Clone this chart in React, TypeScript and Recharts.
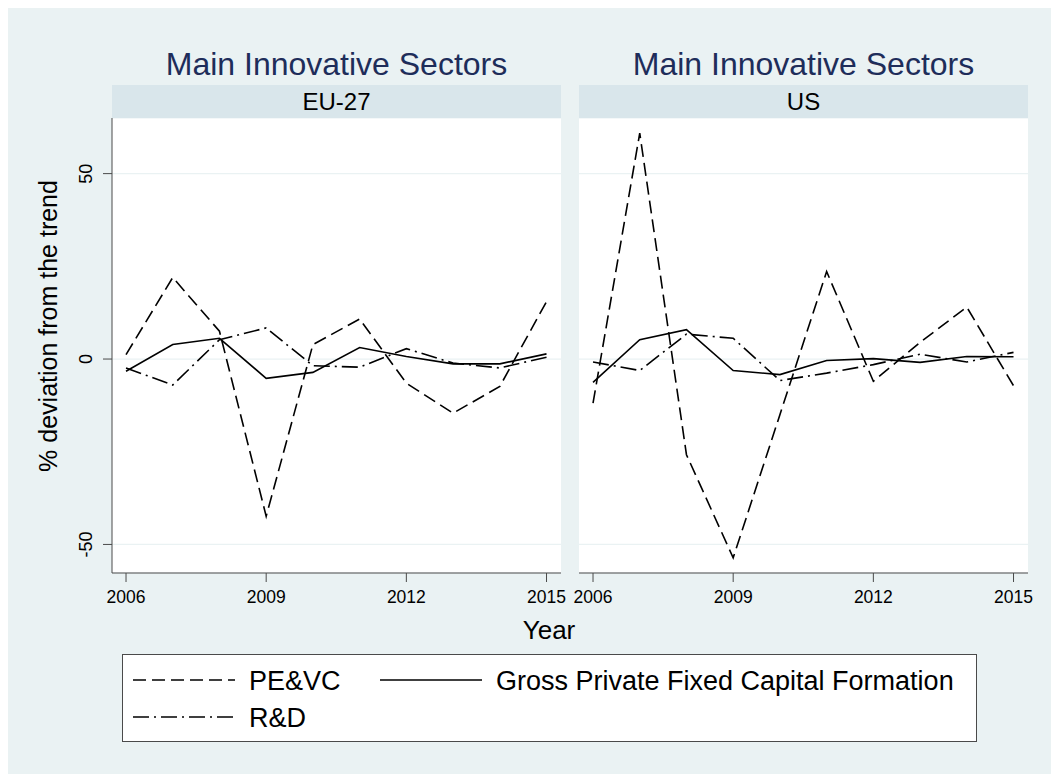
import React from 'react';
import { LineChart, Line, XAxis, YAxis, CartesianGrid } from 'recharts';

// values (% deviation from trend)
const years = [2006, 2007, 2008, 2009, 2010, 2011, 2012, 2013, 2014, 2015];
const xTicks = [2006, 2009, 2012, 2015];
const yTicks = [-50, 0, 50];

const euPEVC = [1.2, 22, 7.5, -42.4, 3.9, 10.8, -6.5, -14.6, -7.4, 15.5];
const euGPFCF = [-3.3, 3.9, 5.6, -5.2, -3.6, 3.1, 0.7, -1.3, -1.3, 1.4];
const euRD = [-2.4, -7, 5.2, 8.4, -1.8, -2.2, 2.8, -1.1, -2.4, 0.5];

const usPEVC = [-11.9, 60.9, -25.8, -53.6, -15, 23.6, -6, 4.5, 14, -7.2];
const usGPFCF = [-6.3, 5.2, 7.9, -3.1, -4.2, -0.4, 0.1, -0.9, 0.7, 0.6];
const usRD = [-0.8, -3.1, 6.7, 5.6, -5.8, -3.8, -1.5, 1.3, -0.8, 1.8];

const panels = ['EU-27', 'US'];

const series = [
  { key: 'pevc', name: 'PE&VC', dash: '13 6' },
  { key: 'gpfcf', name: 'Gross Private Fixed Capital Formation', dash: undefined },
  { key: 'rd', name: 'R&D', dash: '16 5 2 5' },
];

const build = (pevc: number[], gpfcf: number[], rd: number[]) =>
  years.map((year, i) => ({ year, pevc: pevc[i], gpfcf: gpfcf[i], rd: rd[i] }));

const euData = build(euPEVC, euGPFCF, euRD);
const usData = build(usPEVC, usGPFCF, usRD);

const FONT = '"Liberation Sans", Arial, Helvetica, sans-serif';
const BG = '#eaf2f3';
const STRIP = '#d9e6eb';
const NAVY = '#1e2d5a';
const AXIS = '#4a4a4a';

const W = 1051;
const H = 766;
const PLOT_W = 449;
const PLOT_H = 455;
const PLOT_TOP = 110;
const LEFT_X = 104;
const RIGHT_X = 571;
const PAD = 24; // room for edge tick labels

const YTick = (props: any) => {
  const { x, y, payload } = props;
  const tx = x - 11;
  return (
    <text
      x={tx}
      y={y}
      transform={`rotate(-90 ${tx} ${y})`}
      textAnchor="middle"
      fontSize={18}
      fontFamily={FONT}
      fill="#000"
    >
      {payload.value}
    </text>
  );
};

const Panel = ({ data, withAxis }: { data: any[]; withAxis: boolean }) => (
  <LineChart
    width={(withAxis ? LEFT_X : PAD) + PLOT_W + PAD}
    height={PLOT_H + 40}
    data={data}
    margin={{ top: 0, right: PAD, bottom: 0, left: withAxis ? 0 : PAD }}
  >
    <CartesianGrid vertical={false} stroke={BG} strokeWidth={1.2} fill="#fff" />
    <XAxis
      dataKey="year"
      type="number"
      domain={[2005.7, 2015.31]}
      ticks={xTicks}
      allowDataOverflow
      height={40}
      tickSize={9}
      tickMargin={9}
      axisLine={{ stroke: AXIS }}
      tickLine={{ stroke: AXIS }}
      tick={{ fill: '#000', fontSize: 17.5, fontFamily: FONT }}
    />
    <YAxis
      type="number"
      domain={[-57.7, 65]}
      ticks={yTicks}
      allowDataOverflow
      hide={!withAxis}
      width={LEFT_X}
      tickSize={9}
      tickMargin={0}
      axisLine={{ stroke: AXIS }}
      tickLine={{ stroke: AXIS }}
      tick={<YTick />}
    />
    {series.map((s) => (
      <Line
        key={s.key}
        type="linear"
        dataKey={s.key}
        name={s.name}
        stroke="#000"
        strokeWidth={1.6}
        strokeDasharray={s.dash}
        dot={false}
        activeDot={false}
        isAnimationActive={false}
      />
    ))}
  </LineChart>
);

const Frame = () => {
  const panelX = [LEFT_X, RIGHT_X];
  const legendRows = [
    [series[0], series[1]],
    [series[2]],
  ];
  return (
    <svg width={W} height={H} style={{ position: 'absolute', left: 0, top: 0 }} fontFamily={FONT}>
      <rect x={0} y={0} width={W} height={H} fill={BG} />
      {panels.map((p, i) => (
        <g key={p}>
          <text x={panelX[i] + PLOT_W / 2} y={67} textAnchor="middle" fontSize={32} fill={NAVY}>
            Main Innovative Sectors
          </text>
          <rect x={panelX[i]} y={77} width={PLOT_W} height={33} fill={STRIP} />
          <text x={panelX[i] + PLOT_W / 2} y={102} textAnchor="middle" fontSize={24} fill="#000">
            {p}
          </text>
        </g>
      ))}
      <text x={49} y={318} transform="rotate(-90 49 318)" textAnchor="middle" fontSize={25} fill="#000">
        % deviation from the trend
      </text>
      <text x={541} y={631} textAnchor="middle" fontSize={26} fill="#000">
        Year
      </text>
      <rect x={114.5} y={646.5} width={854} height={87} fill="#fff" stroke={AXIS} strokeWidth={1} />
      {legendRows.map((row, r) =>
        row.map((s, c) => {
          const ly = 672 + r * 37;
          const lx = c === 0 ? 125 : 372;
          return (
            <g key={s.key}>
              <line x1={lx} x2={lx + 102} y1={ly} y2={ly} stroke="#000" strokeWidth={1.6} strokeDasharray={s.dash} />
              <text x={lx + 116} y={ly + 9.5} fontSize={27} fill="#000">
                {s.name}
              </text>
            </g>
          );
        })
      )}
    </svg>
  );
};

export default function App() {
  return (
    <div style={{ position: 'relative', width: W, height: H, fontFamily: FONT }}>
      <Frame />
      <div style={{ position: 'absolute', left: 0, top: PLOT_TOP }}>
        <Panel data={euData} withAxis />
      </div>
      <div style={{ position: 'absolute', left: RIGHT_X - PAD, top: PLOT_TOP }}>
        <Panel data={usData} withAxis={false} />
      </div>
    </div>
  );
}
